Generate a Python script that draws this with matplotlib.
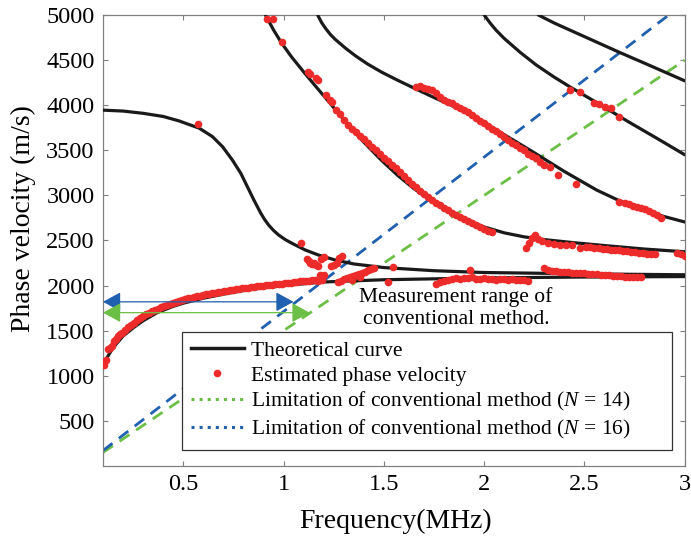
import matplotlib

matplotlib.use("Agg")

import matplotlib.pyplot as plt
from matplotlib.lines import Line2D

plt.rcParams["font.family"] = ["Liberation Serif", "DejaVu Serif"]
plt.rcParams["mathtext.fontset"] = "custom"
plt.rcParams["mathtext.rm"] = "Liberation Serif"
plt.rcParams["mathtext.it"] = "Liberation Serif:italic"

# theoretical dispersion curves (frequency in MHz, phase velocity in m/s)
a0_freq = [0.1, 0.12, 0.15, 0.2, 0.25, 0.3, 0.37, 0.45, 0.5, 0.6, 0.7, 0.8, 0.9, 1.0, 1.2, 1.5, 2.0, 2.5, 3.0]
a0_vel = [1100, 1200, 1310, 1440, 1530, 1610, 1700, 1770, 1805, 1860, 1905, 1945, 1975, 2000, 2040, 2065, 2085, 2095, 2100]

s0_freq = [0.1, 0.2, 0.3, 0.4, 0.48, 0.58, 0.646, 0.696, 0.745, 0.787, 0.819, 0.852, 0.886, 0.905, 0.927,
           0.95, 0.976, 1.01, 1.042, 1.108, 1.174, 1.257, 1.35, 1.5, 1.75, 2.0, 2.5, 3.0]
s0_vel = [3945, 3935, 3910, 3875, 3825, 3745, 3651, 3540, 3392, 3245, 3100, 2950, 2805, 2735, 2668,
          2612, 2560, 2508, 2469, 2395, 2339, 2284, 2240, 2200, 2165, 2145, 2130, 2120]

a1_freq = [0.91, 0.95, 0.99, 1.04, 1.1, 1.16, 1.24, 1.32, 1.4, 1.49, 1.57, 1.65, 1.73, 1.82, 1.9, 2.0,
           2.1, 2.2, 2.3, 2.45, 2.62, 2.8, 3.0]
a1_vel = [5000, 4835, 4690, 4535, 4370, 4210, 4000, 3790, 3590, 3385, 3220, 3075, 2950, 2830, 2740, 2650,
          2585, 2540, 2510, 2475, 2440, 2405, 2375]

s1_freq = [1.17, 1.19, 1.21, 1.235, 1.26, 1.31, 1.36, 1.42, 1.49, 1.57, 1.65, 1.75, 1.9, 2.05, 2.23, 2.4,
           2.56, 2.67, 2.78, 2.89, 3.0]
s1_vel = [5000, 4915, 4850, 4780, 4725, 4630, 4545, 4455, 4365, 4275, 4190, 4085, 3935, 3740, 3500, 3265,
          3060, 2945, 2850, 2770, 2705]

a2_freq = [2.0, 2.03, 2.06, 2.1, 2.18, 2.26, 2.35, 2.43, 2.56, 2.72, 2.89, 3.0]
a2_vel = [5000, 4910, 4830, 4740, 4585, 4445, 4310, 4200, 4030, 3815, 3595, 3450]

s2_freq = [2.27, 2.35, 2.43, 2.55, 2.67, 2.8, 3.0]
s2_vel = [5000, 4910, 4830, 4710, 4590, 4465, 4270]

# estimated phase velocity points
est_a0_freq = [0.105, 0.115, 0.125, 0.135, 0.145, 0.155, 0.165, 0.175, 0.185, 0.195, 0.21, 0.225, 0.24,
               0.255, 0.27, 0.285, 0.30, 0.315, 0.33, 0.345, 0.36, 0.375, 0.39, 0.405, 0.42, 0.435, 0.45,
               0.465, 0.48, 0.495, 0.51, 0.525, 0.54, 0.555, 0.57, 0.585, 0.60, 0.615, 0.63, 0.645, 0.66,
               0.675, 0.69, 0.705, 0.72, 0.735, 0.75, 0.765, 0.78, 0.795, 0.81, 0.825, 0.84, 0.855, 0.87,
               0.885, 0.90, 0.915, 0.93, 0.945, 0.96, 0.975, 0.99, 1.005, 1.02, 1.035, 1.05, 1.065, 1.08,
               1.095, 1.11, 1.125, 1.14, 1.155, 1.17, 1.19]
est_a0_vel = [1120, 1180, 1300, 1310, 1330, 1390, 1410, 1440, 1460, 1480, 1510, 1540, 1565,
              1590, 1615, 1640, 1660, 1680, 1700, 1715, 1730, 1745, 1760, 1775, 1785, 1800, 1810,
              1820, 1830, 1840, 1850, 1858, 1866, 1874, 1882, 1890, 1896, 1903, 1910, 1916, 1922,
              1928, 1934, 1940, 1945, 1950, 1955, 1960, 1965, 1970, 1974, 1978, 1982, 1986, 1990,
              1994, 1998, 2002, 2006, 2010, 2014, 2018, 2022, 2026, 2030, 2034, 2038, 2042, 2046,
              2050, 2052, 2056, 2060, 2062, 2050, 2065]

est_mid_freq = [1.087, 1.115, 1.125, 1.13, 1.14, 1.15, 1.16, 1.17, 1.185, 1.2, 1.18, 1.235, 1.25, 1.265,
                1.275, 1.29, 1.27, 1.285, 1.30, 1.315, 1.33, 1.345, 1.36, 1.375, 1.39, 1.405, 1.42, 1.435,
                1.45, 1.34, 1.38, 1.52, 1.545, 1.2]
est_mid_vel = [2476, 2300, 2270, 2250, 2235, 2250, 2230, 2215, 2300, 2313, 2120, 2220, 2228, 2250,
               2310, 2330, 2040, 2055, 2070, 2085, 2095, 2105, 2115, 2130, 2140, 2155, 2170, 2185,
               2200, 2060, 2090, 2040, 2210, 2120]

est_low_freq = [1.76, 1.78, 1.80, 1.82, 1.84, 1.86, 1.88, 1.90, 1.92, 1.94, 1.96, 1.98, 2.00, 2.02, 2.04,
                2.06, 2.08, 2.10, 2.12, 2.14, 2.16, 2.18, 2.20, 2.22, 1.93]
est_low_vel = [2020, 2040, 2050, 2060, 2075, 2080, 2075, 2085, 2080, 2090, 2075, 2070, 2080, 2075, 2070,
               2065, 2075, 2070, 2065, 2070, 2060, 2065, 2060, 2055, 2170]

est_s0_freq = [2.30, 2.32, 2.34, 2.36, 2.38, 2.40, 2.42, 2.44, 2.46, 2.48, 2.50, 2.52, 2.54, 2.56, 2.58,
               2.60, 2.62, 2.64, 2.66, 2.68, 2.70, 2.72, 2.74, 2.76, 2.78]
est_s0_vel = [2200, 2175, 2165, 2160, 2155, 2150, 2150, 2145, 2140, 2135, 2135, 2130, 2125, 2125, 2120,
              2120, 2115, 2110, 2110, 2105, 2100, 2100, 2095, 2095, 2090]

est_a1_freq = [0.92, 0.95, 0.99, 1.12, 1.13, 1.16, 1.17, 1.21, 1.23, 1.24,
               1.26, 1.28, 1.30, 1.32, 1.34, 1.36, 1.38, 1.40, 1.42, 1.44, 1.46, 1.48, 1.50, 1.52, 1.54,
               1.56, 1.58, 1.60, 1.62, 1.64, 1.66, 1.68, 1.70, 1.72, 1.74, 1.76, 1.78, 1.80, 1.82, 1.84,
               1.86, 1.88, 1.90, 1.92, 1.94, 1.96, 1.98, 2.00, 2.02, 2.04]
est_a1_vel = [4960, 4950, 4700, 4370, 4350, 4300, 4280, 4110, 4060, 4035,
              3950, 3900, 3840, 3780, 3740, 3700, 3660, 3620, 3580, 3540, 3500, 3460, 3420, 3380, 3340,
              3300, 3260, 3210, 3170, 3130, 3090, 3050, 3010, 2980, 2950, 2920, 2890, 2860, 2835, 2810,
              2785, 2760, 2740, 2715, 2695, 2675, 2655, 2630, 2610, 2590]

est_a1_high_freq = [2.21, 2.225, 2.24, 2.255, 2.27, 2.29, 2.32, 2.35, 2.38, 2.41, 2.44, 2.48, 2.51, 2.53,
                    2.55, 2.57, 2.59, 2.61, 2.63, 2.65, 2.67, 2.69, 2.71, 2.73, 2.75, 2.77, 2.79, 2.81,
                    2.83, 2.85, 2.96, 2.98, 3.0]
est_a1_high_vel = [2420, 2470, 2530, 2560, 2520, 2490, 2470, 2460, 2455, 2450, 2445, 2420, 2430, 2425,
                   2420, 2415, 2410, 2405, 2400, 2395, 2390, 2385, 2380, 2375, 2370, 2365, 2360, 2355,
                   2350, 2345, 2360, 2350, 2330]

est_s1_freq = [1.66, 1.68, 1.70, 1.72, 1.74, 1.76, 1.78, 1.80, 1.82, 1.84, 1.86, 1.88, 1.90, 1.92, 1.94,
               1.96, 1.98, 2.00, 2.02, 2.04, 2.06, 2.08, 2.10, 2.12, 2.14, 2.16, 2.18, 2.20, 2.22, 2.24,
               2.26, 2.28, 2.30, 2.33, 2.37, 2.46,
               2.67, 2.70, 2.72, 2.74, 2.76, 2.78, 2.80, 2.82, 2.84, 2.86, 2.88]
est_s1_vel = [4200, 4210, 4190, 4180, 4170, 4130, 4090, 4060, 4040, 4020, 3990, 3970, 3950, 3920, 3890,
              3860, 3830, 3800, 3770, 3740, 3710, 3680, 3650, 3610, 3580, 3560, 3530, 3500, 3460, 3440,
              3410, 3370, 3340, 3310, 3230, 3130,
              2930, 2920, 2900, 2880, 2870, 2860, 2850, 2830, 2810, 2780, 2750]

est_a2_freq = [2.43, 2.48, 2.55, 2.57, 2.60, 2.63, 2.67]
est_a2_vel = [4170, 4150, 4025, 4010, 3985, 3970, 3870]

est_single_freq = [0.572]
est_single_vel = [3791]

# limitation lines of the conventional method (end points)
limit14_freq = [0.1, 3.0]
limit14_vel = [150, 4500]
limit16_freq = [0.1, 2.92]
limit16_vel = [171, 5000]

# measurement range arrows
range16_freq = [0.1, 1.05]
range16_vel = 1820
range14_freq = [0.1, 1.13]
range14_vel = 1700

x_ticks = [0.5, 1, 1.5, 2, 2.5, 3]
x_tick_labels = ["0.5", "1", "1.5", "2", "2.5", "3"]
y_ticks = [500, 1000, 1500, 2000, 2500, 3000, 3500, 4000, 4500, 5000]

BLACK = "#1a1a1a"
RED = "#ee2b2b"
BLUE = "#2060b0"
GREEN = "#6cbf45"

fig = plt.figure(figsize=(6.91, 5.43), dpi=100)
ax = fig.add_axes([0.149, 0.1418, 0.842, 0.8306])

dash = (0, (4.3, 2.9))
ax.plot(limit14_freq, limit14_vel, color=GREEN, lw=2.0, linestyle=dash, zorder=2)
ax.plot(limit16_freq, limit16_vel, color=BLUE, lw=2.0, linestyle=dash, zorder=2)

for fr, ve in [(a0_freq, a0_vel), (s0_freq, s0_vel), (a1_freq, a1_vel),
               (s1_freq, s1_vel), (a2_freq, a2_vel), (s2_freq, s2_vel)]:
    ax.plot(fr, ve, color=BLACK, lw=2.3, zorder=3, solid_capstyle="round", solid_joinstyle="round")

for fr, ve in [(est_a0_freq, est_a0_vel), (est_mid_freq, est_mid_vel), (est_low_freq, est_low_vel),
               (est_s0_freq, est_s0_vel), (est_a1_freq, est_a1_vel), (est_a1_high_freq, est_a1_high_vel),
               (est_s1_freq, est_s1_vel), (est_a2_freq, est_a2_vel), (est_single_freq, est_single_vel)]:
    ax.plot(fr, ve, linestyle="none", marker="o", ms=5.5, mew=0, color=RED, zorder=4)

arrow_style = "<|-|>,head_length=0.55,head_width=0.3"
ax.annotate("", xy=(range16_freq[1], range16_vel), xytext=(range16_freq[0], range16_vel),
            arrowprops=dict(arrowstyle=arrow_style, color=BLUE, lw=0.9, mutation_scale=20,
                            shrinkA=0, shrinkB=0), zorder=5)
ax.annotate("", xy=(range14_freq[1], range14_vel), xytext=(range14_freq[0], range14_vel),
            arrowprops=dict(arrowstyle=arrow_style, color=GREEN, lw=0.9, mutation_scale=20,
                            shrinkA=0, shrinkB=0), zorder=5)

ax.text(1.86, 1752, "Measurement range of\nconventional method.", ha="center", va="center",
        fontsize=15.5, linespacing=1.25, zorder=6)

ax.set_xlim(0.1, 3.0)
ax.set_ylim(0, 5000)
ax.set_xticks(x_ticks)
ax.set_xticklabels(x_tick_labels)
ax.set_yticks(y_ticks)
ax.tick_params(direction="in", length=3.5, width=0.8, color="#808080", labelsize=17.5,
               top=True, right=True, pad=6)
for spine in ax.spines.values():
    spine.set_color("#808080")
    spine.set_linewidth(0.9)

ax.set_xlabel("Frequency(MHz)", fontsize=20)
ax.set_ylabel("Phase velocity (m/s)", fontsize=20)
ax.xaxis.set_label_coords(0.502, -0.095)
ax.yaxis.set_label_coords(-0.115, 0.548)

handles = [
    Line2D([], [], color=BLACK, lw=2.5),
    Line2D([], [], color=RED, linestyle="none", marker="o", ms=5.5, mew=0),
    Line2D([], [], color=GREEN, lw=2.2, linestyle=":"),
    Line2D([], [], color=BLUE, lw=2.2, linestyle=":"),
]
labels = [
    "Theoretical curve",
    "Estimated phase velocity",
    "Limitation of conventional method ($\\mathit{N}$ = 14)",
    "Limitation of conventional method ($\\mathit{N}$ = 16)",
]
leg = ax.legend(handles, labels, loc="upper left", bbox_to_anchor=(0.136, 0.04, 0.842, 0.257),
                mode="expand", borderaxespad=0, fontsize=15.5, handlelength=2.47,
                handletextpad=0.33, labelspacing=0.22, borderpad=0.4, fancybox=False,
                framealpha=1, edgecolor="#333333")
leg.get_frame().set_linewidth(0.9)
leg.set_zorder(7)

fig.savefig("out.png", dpi=100)
